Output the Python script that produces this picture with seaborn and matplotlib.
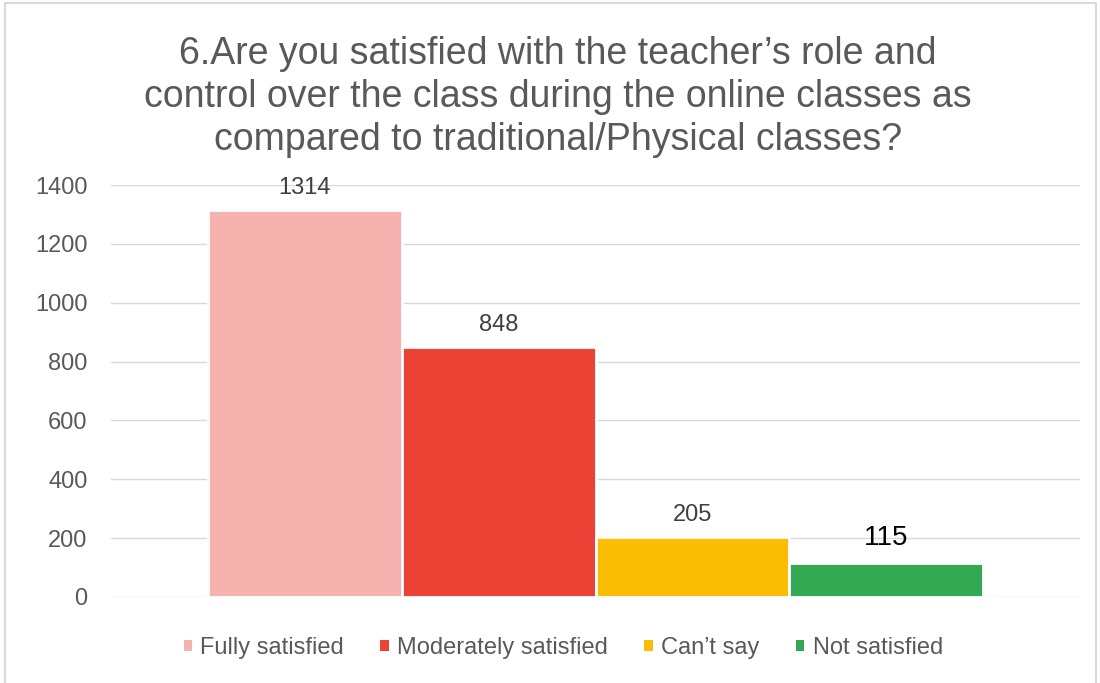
import matplotlib
matplotlib.use("Agg")
import matplotlib.pyplot as plt
import seaborn as sns
import pandas as pd
from matplotlib.patches import Rectangle, Patch

categories = ["Fully satisfied", "Moderately satisfied", "Can’t say", "Not satisfied"]
values = [1314, 848, 205, 115]
colors = ["#F6B2AE", "#EA4335", "#FBBC04", "#34A853"]
yticks = [0, 200, 400, 600, 800, 1000, 1200, 1400]
title = ("6.Are you satisfied with the teacher’s role and\n"
         "control over the class during the online classes as\n"
         "compared to traditional/Physical classes?")

sns.set_theme(style="white")
plt.rcParams['font.family'] = ['Liberation Sans', 'DejaVu Sans']

df = pd.DataFrame({"group": [""] * len(categories), "category": categories, "value": values})

fig = plt.figure(figsize=(11, 6.83), dpi=100)
ax = fig.add_axes([0.101, 0.126, 0.881, 0.603])
sns.barplot(data=df, x="group", y="value", hue="category", hue_order=categories,
            palette=colors, width=0.8, edgecolor="white", linewidth=2,
            saturation=1, ax=ax, legend=False)

ax.set_ylim(0, 1400)
ax.set_xlim(-0.5, 0.5)
ax.set_yticks(yticks)
ax.set_xticks([])
ax.set_xlabel("")
ax.set_ylabel("")
ax.yaxis.grid(True, color="#d9d9d9", lw=1)
ax.set_axisbelow(True)
for s in ax.spines.values():
    s.set_visible(False)
ax.tick_params(axis='y', length=0, pad=17, labelsize=17, labelcolor='#595959')

for i, (cont, val) in enumerate(zip(ax.containers, values)):
    bar = cont[0]
    x = bar.get_x() + bar.get_width() / 2
    last = i == len(values) - 1
    ax.annotate(str(val), (x, val), xytext=(0, 22 if not last else 25),
                textcoords='offset pixels', ha='center', va='center',
                fontsize=20 if last else 17,
                color='black' if last else '#404040')

fig.text(0.507, 1 - 97 / 683, title, ha='center', va='center', fontsize=27,
         color='#595959', linespacing=1.24)

handles = [Patch(facecolor=c, edgecolor='none', label=l) for c, l in zip(colors, categories)]
fig.legend(handles=handles, loc='center', bbox_to_anchor=(0.512, 1 - 648 / 683), ncol=4,
           frameon=False, fontsize=17, handlelength=0.36, handleheight=0.36,
           handletextpad=0.34, columnspacing=1.55, labelcolor='#595959')

fig.patches.append(Rectangle((5 / 1100, -0.02), 1091 / 1100, 1.02 - 3 / 683,
                             transform=fig.transFigure, fill=False,
                             edgecolor='#d9d9d9', lw=1.5))

fig.savefig("out.png", dpi=100)
